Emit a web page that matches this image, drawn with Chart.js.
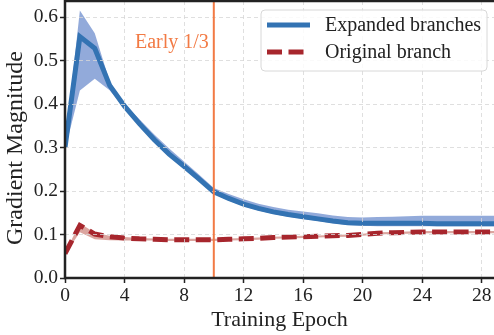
<!DOCTYPE html>
<html>
<head>
<meta charset="utf-8">
<script src="https://cdn.jsdelivr.net/npm/chart.js@4.4.1/dist/chart.umd.min.js"></script>
<style>
  html, body { margin: 0; padding: 0; background: #fff; }
  #wrap { width: 494px; height: 335px; position: relative; }
</style>
</head>
<body>
<div id="wrap"><canvas id="myChart"></canvas></div>
<script>
var epochs = [0,1,2,3,4,5,6,7,8,9,10,11,12,13,14,15,16,17,18,19,20,21,22,23,24,25,26,27,28,29];

var expandedMean  = [0.300,0.555,0.528,0.443,0.395,0.355,0.318,0.285,0.257,0.228,0.198,0.183,0.170,0.160,0.152,0.146,0.141,0.136,0.131,0.127,0.126,0.126,0.126,0.126,0.126,0.125,0.125,0.125,0.125,0.125];
var expandedUpper = [0.305,0.615,0.563,0.452,0.400,0.365,0.330,0.298,0.268,0.238,0.207,0.193,0.181,0.171,0.163,0.157,0.153,0.149,0.144,0.140,0.139,0.140,0.141,0.142,0.143,0.143,0.143,0.143,0.143,0.143];
var expandedLower = [0.295,0.431,0.458,0.432,0.390,0.350,0.312,0.280,0.252,0.223,0.193,0.178,0.165,0.155,0.147,0.141,0.136,0.131,0.126,0.122,0.120,0.119,0.119,0.119,0.119,0.119,0.119,0.119,0.119,0.119];

var originalMean  = [0.056,0.121,0.101,0.095,0.092,0.090,0.089,0.088,0.088,0.088,0.088,0.089,0.090,0.091,0.093,0.094,0.095,0.096,0.097,0.098,0.100,0.103,0.104,0.105,0.106,0.106,0.106,0.106,0.106,0.106];
var originalUpper = [0.058,0.126,0.104,0.097,0.094,0.092,0.091,0.090,0.090,0.090,0.090,0.091,0.092,0.093,0.095,0.096,0.097,0.098,0.099,0.100,0.102,0.105,0.106,0.107,0.108,0.108,0.108,0.108,0.108,0.108];
var originalLower = [0.054,0.105,0.089,0.087,0.086,0.086,0.086,0.085,0.085,0.085,0.085,0.086,0.087,0.088,0.090,0.091,0.092,0.093,0.094,0.095,0.097,0.100,0.101,0.102,0.103,0.103,0.103,0.103,0.103,0.103];

var seriesNames = ["Expanded branches", "Original branch"];
var earlyEpoch = 10;
var earlyLabel = "Early 1/3";
var xTitle = "Training Epoch";
var yTitle = "Gradient Magnitude";

var SERIF = '"Liberation Serif", "DejaVu Serif", "Times New Roman", serif';
var BLUE = '#3373b3';
var RED = '#a7262d';
var ORANGE = '#f27a44';

function pts(vals) {
    return epochs.map(function(e, i) { return { x: e, y: vals[i] }; });
}

function band(vals, color, fill) {
    return {
        data: pts(vals),
        borderWidth: 0,
        pointRadius: 0,
        backgroundColor: color,
        fill: fill,
        tension: 0,
        order: 5
    };
}

var overlay = {
    id: 'overlay',
    afterDraw: function(chart) {
        var ctx = chart.ctx;
        var a = chart.chartArea;
        var x = chart.scales.x;
        var xe = x.getPixelForValue(earlyEpoch);
        ctx.save();
        // early marker
        ctx.strokeStyle = ORANGE;
        ctx.lineWidth = 2;
        ctx.beginPath();
        ctx.moveTo(xe, a.top);
        ctx.lineTo(xe, a.bottom);
        ctx.stroke();
        ctx.fillStyle = ORANGE;
        ctx.font = '20px ' + SERIF;
        ctx.textAlign = 'right';
        ctx.textBaseline = 'alphabetic';
        ctx.fillText(earlyLabel, xe - 5, a.top + 47);

        // spines: top, left, bottom
        ctx.strokeStyle = '#222';
        ctx.lineWidth = 2.5;
        ctx.beginPath();
        ctx.moveTo(a.right, a.top);
        ctx.lineTo(a.left, a.top);
        ctx.lineTo(a.left, a.bottom);
        ctx.lineTo(a.right, a.bottom);
        ctx.stroke();

        // y axis title (drawn here so its size can differ from the x title)
        ctx.save();
        ctx.translate(16, 245);
        ctx.rotate(-Math.PI / 2);
        ctx.fillStyle = '#222';
        ctx.font = '24px ' + SERIF;
        ctx.textAlign = 'left';
        ctx.textBaseline = 'middle';
        ctx.fillText(yTitle, 0, 0);
        ctx.restore();

        // legend
        var lx = 261, ly = 10, lw = 226, lh = 61, r = 4;
        ctx.fillStyle = 'rgba(255,255,255,0.85)';
        ctx.strokeStyle = '#d8d8d8';
        ctx.lineWidth = 1;
        ctx.beginPath();
        ctx.moveTo(lx + r, ly);
        ctx.arcTo(lx + lw, ly, lx + lw, ly + lh, r);
        ctx.arcTo(lx + lw, ly + lh, lx, ly + lh, r);
        ctx.arcTo(lx, ly + lh, lx, ly, r);
        ctx.arcTo(lx, ly, lx + lw, ly, r);
        ctx.closePath();
        ctx.fill();
        ctx.stroke();

        var rows = [
            { y: ly + 15, color: BLUE, dash: [] },
            { y: ly + 42, color: RED, dash: [15, 6.5] }
        ];
        ctx.font = '20px ' + SERIF;
        ctx.textAlign = 'left';
        ctx.textBaseline = 'middle';
        rows.forEach(function(row, i) {
            ctx.strokeStyle = row.color;
            ctx.lineWidth = 5;
            ctx.setLineDash(row.dash);
            ctx.beginPath();
            ctx.moveTo(lx + 6, row.y);
            ctx.lineTo(lx + 49, row.y);
            ctx.stroke();
            ctx.setLineDash([]);
            ctx.fillStyle = '#222';
            ctx.fillText(seriesNames[i], lx + 64, row.y + 1);
        });
        ctx.restore();
    }
};

var gridOpts = {
    color: 'rgba(215,215,215,0.8)',
    lineWidth: 1,
    z: 1,
    tickLength: 5,
    tickColor: '#222',
    tickWidth: 1.5,
    tickBorderDash: []
};

window.onload = function() {
    var ctx = document.getElementById('myChart').getContext('2d');
    window.myChart = new Chart(ctx, {
        type: 'line',
        data: {
            datasets: [
                band(expandedUpper, 'rgba(95,130,200,0.68)', '+1'),
                band(expandedLower, 'rgba(95,130,200,0.68)', false),
                band(originalUpper, 'rgba(195,105,95,0.6)', '+1'),
                band(originalLower, 'rgba(195,105,95,0.6)', false),
                {
                    label: seriesNames[0],
                    data: pts(expandedMean),
                    borderColor: BLUE,
                    borderWidth: 5,
                    pointRadius: 0,
                    fill: false,
                    tension: 0,
                    order: 2
                },
                {
                    label: seriesNames[1],
                    data: pts(originalMean),
                    borderColor: RED,
                    borderWidth: 5,
                    borderDash: [15, 6.5],
                    pointRadius: 0,
                    fill: false,
                    tension: 0,
                    order: 1
                }
            ]
        },
        options: {
            responsive: true,
            maintainAspectRatio: false,
            animation: false,
            layout: { padding: { top: 1, right: 0, left: 0, bottom: 0 } },
            plugins: {
                legend: { display: false },
                tooltip: { enabled: false }
            },
            scales: {
                x: {
                    type: 'linear',
                    min: 0,
                    max: 28.83,
                    ticks: {
                        stepSize: 4,
                        includeBounds: false,
                        color: '#222',
                        padding: 1,
                        font: { family: SERIF, size: 19.5 }
                    },
                    grid: gridOpts,
                    border: { display: false, dash: [4, 3] },
                    title: {
                        display: true,
                        text: xTitle,
                        color: '#222',
                        padding: { top: 0, bottom: 2 },
                        font: { family: SERIF, size: 22 }
                    },
                    afterFit: function(s) {
                        s.height = 57;
                        s.paddingLeft = 0;
                        s.paddingRight = 0;
                    }
                },
                y: {
                    min: 0,
                    max: 0.637,
                    ticks: {
                        stepSize: 0.1,
                        includeBounds: false,
                        color: '#222',
                        padding: 2,
                        font: { family: SERIF, size: 19.5 },
                        callback: function(v) { return v.toFixed(1); }
                    },
                    grid: gridOpts,
                    border: { display: false, dash: [4, 3] },
                    title: { display: false },
                    afterFit: function(s) {
                        s.width = 65;
                        s.paddingTop = 0;
                        s.paddingBottom = 0;
                    }
                }
            }
        },
        plugins: [overlay]
    });
};
</script>
</body>
</html>
